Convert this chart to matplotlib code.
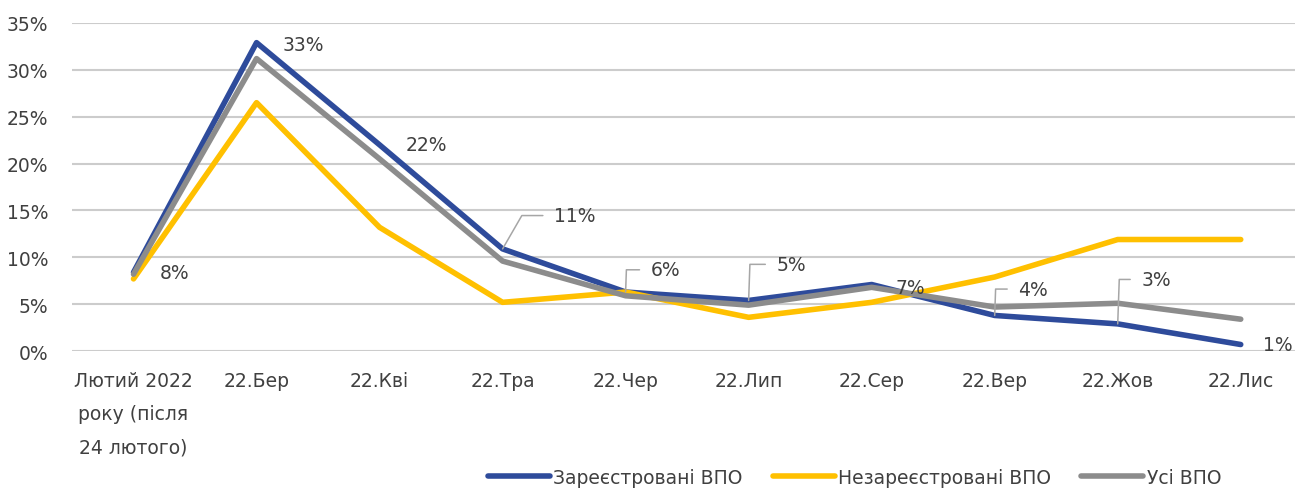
import matplotlib.pyplot as plt

plt.rcParams["font.family"] = ["DejaVu Sans"]

categories = [
    "Лютий 2022\nроку (після\n24 лютого)",
    "22.Бер", "22.Кві", "22.Тра", "22.Чер", "22.Лип",
    "22.Сер", "22.Вер", "22.Жов", "22.Лис",
]
registered = [8.4, 32.9, 22.0, 10.9, 6.3, 5.4, 7.1, 3.8, 2.9, 0.7]
unregistered = [7.7, 26.5, 13.2, 5.2, 6.3, 3.6, 5.2, 7.9, 11.9, 11.9]
all_idp = [8.2, 31.2, 20.5, 9.6, 5.9, 4.9, 6.8, 4.7, 5.1, 3.4]
value_labels = ["8%", "33%", "22%", "11%", "6%", "5%", "7%", "4%", "3%", "1%"]
yticks = [0, 5, 10, 15, 20, 25, 30, 35]

TEXT = "#404040"

fig = plt.figure(figsize=(12.95, 4.89), dpi=100)
ax = fig.add_axes([0.0556, 0.280, 0.95, 0.671])

x = list(range(len(categories)))
ax.plot(x, registered, color="#2E4B9B", lw=4.0, solid_capstyle="round",
        solid_joinstyle="round", label="Зареєстровані ВПО", zorder=3)
ax.plot(x, unregistered, color="#FFC000", lw=4.0, solid_capstyle="round",
        solid_joinstyle="round", label="Незареєстровані ВПО", zorder=4)
ax.plot(x, all_idp, color="#8C8C8C", lw=4.0, solid_capstyle="round",
        solid_joinstyle="round", label="Усі ВПО", zorder=5)

# label offsets in points and whether a leader line is drawn
offsets = [(19, 0), (19, -1), (19, 0), (37, 24), (18, 16),
           (20, 26), (17, -2), (17, 19), (17, 32), (16, 0)]
leader = [False, False, False, True, True, True, False, True, True, False]
for i, (lab, (dx, dy), ld) in enumerate(zip(value_labels, offsets, leader)):
    props = None
    if ld:
        angle = 60 if i == 3 else 88
        props = dict(arrowstyle="-", color="#A6A6A6", lw=1.1, shrinkA=6,
                     shrinkB=0,
                     connectionstyle=f"angle,angleA=0,angleB={angle},rad=0")
    ax.annotate(lab, xy=(i, registered[i]), xytext=(dx, dy),
                textcoords="offset points", ha="left", va="center",
                fontsize=13.5, color=TEXT, arrowprops=props, zorder=6)

ax.set_xlim(-0.5, 9.5)
ax.set_ylim(0, 35)
ax.set_yticks(yticks)
ax.set_yticklabels([f"{v}%" for v in yticks])
ax.set_xticks(x)
ax.set_xticklabels(categories, linespacing=1.95, va="top")
ax.tick_params(axis="both", length=0, labelsize=13.5, labelcolor=TEXT)
ax.tick_params(axis="y", pad=17)
ax.tick_params(axis="x", pad=14)
ax.grid(axis="y", color="#CCCCCC", lw=1.5)
ax.set_axisbelow(True)
for s in ax.spines.values():
    s.set_visible(False)

ax.legend(loc="center", bbox_to_anchor=(0.66, 0.022), bbox_transform=fig.transFigure,
          ncol=3, frameon=False, fontsize=13.5, handlelength=3.3,
          handletextpad=0.2, columnspacing=1.6, labelcolor=TEXT)

fig.savefig("out.png", dpi=100)
